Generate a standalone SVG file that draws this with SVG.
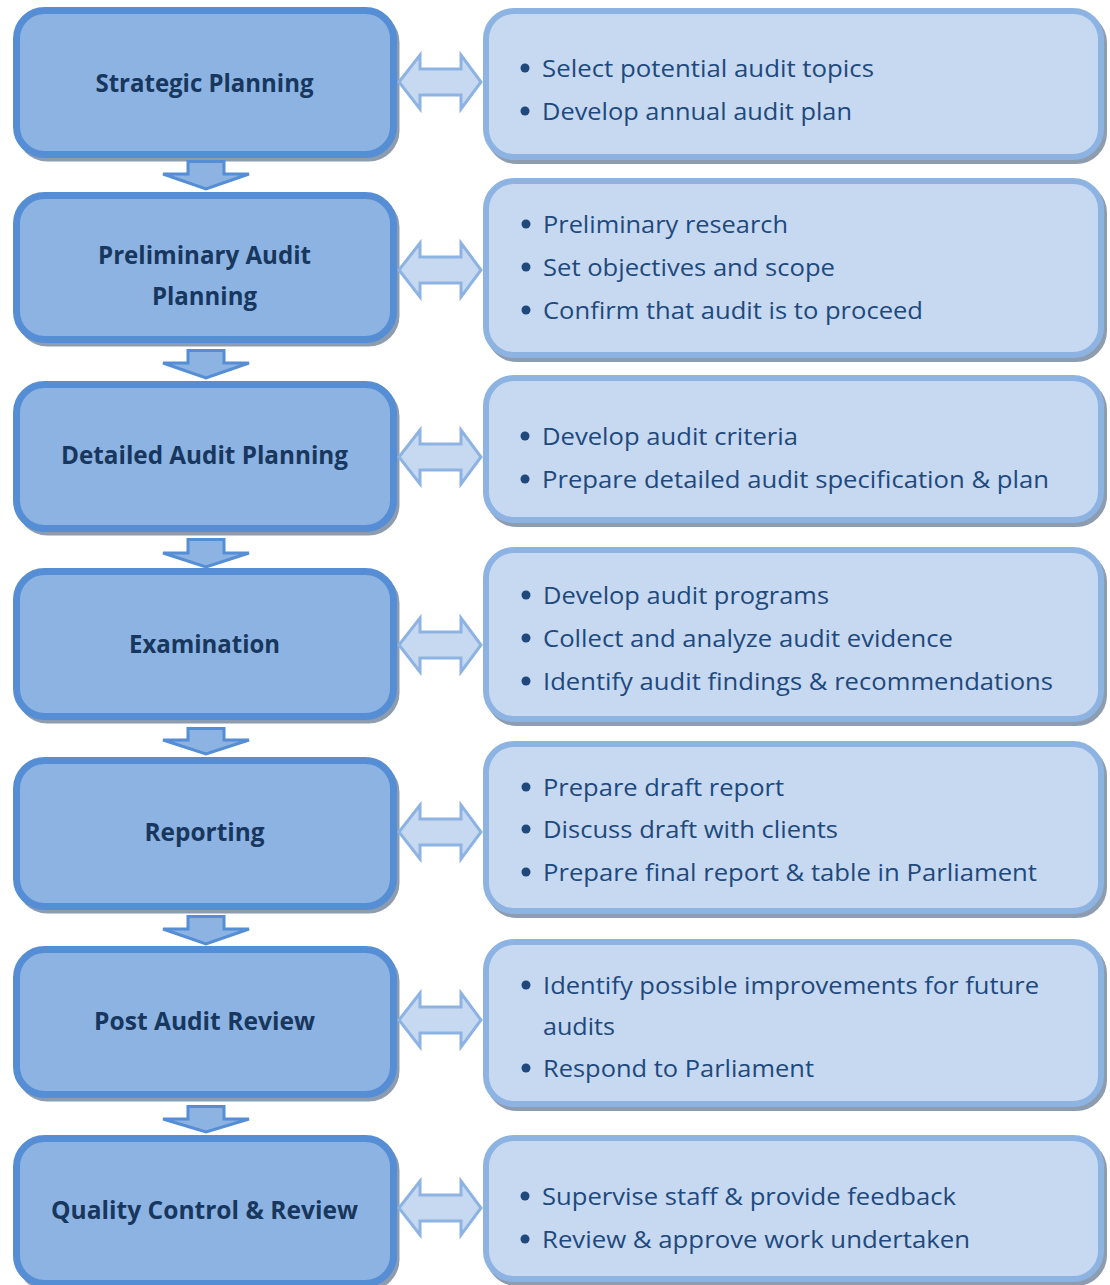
<svg xmlns="http://www.w3.org/2000/svg" width="1110" height="1285" viewBox="0 0 1110 1285">
<style>
.lbox{fill:#8DB3E2;stroke:#558ED5;stroke-width:7}
.rbox{fill:#C6D9F1;stroke:#8DB3E2;stroke-width:6}
.shadow{fill:#8E9CAF;stroke:#8E9CAF;stroke-width:6}
.down{fill:#8DB3E2;stroke:#558ED5;stroke-width:3;stroke-linejoin:miter}
.dbl{fill:#C6D9F1;stroke:#8DB3E2;stroke-width:3;stroke-linejoin:miter}
.ltxt{font-family:"Open Sans","Liberation Sans",sans-serif;font-weight:bold;font-size:25.5px;fill:#17375E;text-anchor:middle}
.rtxt{font-family:"Open Sans","Liberation Sans",sans-serif;font-size:24.5px;fill:#1F497D}
.dot{fill:#1F497D}
</style>
<rect width="1110" height="1285" fill="#FFFFFF"/>

<g id="node-strategic">
<rect class="shadow" x="19.5" y="14.5" width="377" height="144" rx="28"/>
<rect class="lbox" x="16.5" y="10.5" width="377" height="144" rx="28"/>
<text class="ltxt" x="204.5" y="92" textLength="218" lengthAdjust="spacingAndGlyphs">Strategic Planning</text>
</g>
<g id="node-strategic-detail">
<rect class="shadow" x="489" y="15" width="615" height="146" rx="28"/>
<rect class="rbox" x="486" y="11" width="615" height="146" rx="28"/>
<circle class="dot" cx="525" cy="68" r="4.5"/>
<text class="rtxt" x="542" y="77" textLength="332" lengthAdjust="spacingAndGlyphs">Select potential audit topics</text>
<circle class="dot" cx="525" cy="111" r="4.5"/>
<text class="rtxt" x="542" y="120" textLength="310" lengthAdjust="spacingAndGlyphs">Develop annual audit plan</text>
</g>

<g id="node-preliminary">
<rect class="shadow" x="19.5" y="199.5" width="377" height="144" rx="28"/>
<rect class="lbox" x="16.5" y="195.5" width="377" height="144" rx="28"/>
<text class="ltxt" x="204.5" y="264" textLength="213" lengthAdjust="spacingAndGlyphs">Preliminary Audit</text>
<text class="ltxt" x="204.5" y="305" textLength="105" lengthAdjust="spacingAndGlyphs">Planning</text>
</g>
<g id="node-preliminary-detail">
<rect class="shadow" x="489" y="185" width="615" height="174" rx="28"/>
<rect class="rbox" x="486" y="181" width="615" height="174" rx="28"/>
<circle class="dot" cx="526" cy="224" r="4.5"/>
<text class="rtxt" x="543" y="233" textLength="245" lengthAdjust="spacingAndGlyphs">Preliminary research</text>
<circle class="dot" cx="526" cy="267" r="4.5"/>
<text class="rtxt" x="543" y="276" textLength="292" lengthAdjust="spacingAndGlyphs">Set objectives and scope</text>
<circle class="dot" cx="526" cy="310" r="4.5"/>
<text class="rtxt" x="543" y="319" textLength="380" lengthAdjust="spacingAndGlyphs">Confirm that audit is to proceed</text>
</g>

<g id="node-detailed">
<rect class="shadow" x="19.5" y="388.5" width="377" height="144" rx="28"/>
<rect class="lbox" x="16.5" y="384.5" width="377" height="144" rx="28"/>
<text class="ltxt" x="204.5" y="464" textLength="287" lengthAdjust="spacingAndGlyphs">Detailed Audit Planning</text>
</g>
<g id="node-detailed-detail">
<rect class="shadow" x="489" y="382" width="615" height="142" rx="28"/>
<rect class="rbox" x="486" y="378" width="615" height="142" rx="28"/>
<circle class="dot" cx="525" cy="436" r="4.5"/>
<text class="rtxt" x="542" y="445" textLength="256" lengthAdjust="spacingAndGlyphs">Develop audit criteria</text>
<circle class="dot" cx="525" cy="479" r="4.5"/>
<text class="rtxt" x="542" y="488" textLength="507" lengthAdjust="spacingAndGlyphs">Prepare detailed audit specification &amp; plan</text>
</g>

<g id="node-examination">
<rect class="shadow" x="19.5" y="575.5" width="377" height="145" rx="28"/>
<rect class="lbox" x="16.5" y="571.5" width="377" height="145" rx="28"/>
<text class="ltxt" x="204.5" y="653" textLength="151" lengthAdjust="spacingAndGlyphs">Examination</text>
</g>
<g id="node-examination-detail">
<rect class="shadow" x="489" y="554" width="615" height="169" rx="28"/>
<rect class="rbox" x="486" y="550" width="615" height="169" rx="28"/>
<circle class="dot" cx="526" cy="595" r="4.5"/>
<text class="rtxt" x="543" y="604" textLength="286" lengthAdjust="spacingAndGlyphs">Develop audit programs</text>
<circle class="dot" cx="526" cy="638" r="4.5"/>
<text class="rtxt" x="543" y="647" textLength="410" lengthAdjust="spacingAndGlyphs">Collect and analyze audit evidence</text>
<circle class="dot" cx="526" cy="681" r="4.5"/>
<text class="rtxt" x="543" y="690" textLength="510" lengthAdjust="spacingAndGlyphs">Identify audit findings &amp; recommendations</text>
</g>

<g id="node-reporting">
<rect class="shadow" x="19.5" y="764.5" width="377" height="146" rx="28"/>
<rect class="lbox" x="16.5" y="760.5" width="377" height="146" rx="28"/>
<text class="ltxt" x="204.5" y="841" textLength="120" lengthAdjust="spacingAndGlyphs">Reporting</text>
</g>
<g id="node-reporting-detail">
<rect class="shadow" x="489" y="748" width="615" height="167" rx="28"/>
<rect class="rbox" x="486" y="744" width="615" height="167" rx="28"/>
<circle class="dot" cx="526" cy="787" r="4.5"/>
<text class="rtxt" x="543" y="796" textLength="241" lengthAdjust="spacingAndGlyphs">Prepare draft report</text>
<circle class="dot" cx="526" cy="829" r="4.5"/>
<text class="rtxt" x="543" y="838" textLength="295" lengthAdjust="spacingAndGlyphs">Discuss draft with clients</text>
<circle class="dot" cx="526" cy="872" r="4.5"/>
<text class="rtxt" x="543" y="881" textLength="494" lengthAdjust="spacingAndGlyphs">Prepare final report &amp; table in Parliament</text>
</g>

<g id="node-post-audit">
<rect class="shadow" x="19.5" y="953.5" width="377" height="145" rx="28"/>
<rect class="lbox" x="16.5" y="949.5" width="377" height="145" rx="28"/>
<text class="ltxt" x="204.5" y="1030" textLength="221" lengthAdjust="spacingAndGlyphs">Post Audit Review</text>
</g>
<g id="node-post-audit-detail">
<rect class="shadow" x="489" y="946" width="615" height="162" rx="28"/>
<rect class="rbox" x="486" y="942" width="615" height="162" rx="28"/>
<circle class="dot" cx="526" cy="985" r="4.5"/>
<text class="rtxt" x="543" y="994" textLength="496" lengthAdjust="spacingAndGlyphs">Identify possible improvements for future</text>
<text class="rtxt" x="543" y="1035" textLength="72" lengthAdjust="spacingAndGlyphs">audits</text>
<circle class="dot" cx="526" cy="1068" r="4.5"/>
<text class="rtxt" x="543" y="1077" textLength="271" lengthAdjust="spacingAndGlyphs">Respond to Parliament</text>
</g>

<g id="node-quality">
<rect class="shadow" x="19.5" y="1142.5" width="377" height="145" rx="28"/>
<rect class="lbox" x="16.5" y="1138.5" width="377" height="145" rx="28"/>
<text class="ltxt" x="204.5" y="1219" textLength="307" lengthAdjust="spacingAndGlyphs">Quality Control &amp; Review</text>
</g>
<g id="node-quality-detail">
<rect class="shadow" x="489" y="1142" width="615" height="141" rx="28"/>
<rect class="rbox" x="486" y="1138" width="615" height="141" rx="28"/>
<circle class="dot" cx="525" cy="1196" r="4.5"/>
<text class="rtxt" x="542" y="1205" textLength="414" lengthAdjust="spacingAndGlyphs">Supervise staff &amp; provide feedback</text>
<circle class="dot" cx="525" cy="1239" r="4.5"/>
<text class="rtxt" x="542" y="1248" textLength="428" lengthAdjust="spacingAndGlyphs">Review &amp; approve work undertaken</text>
</g>

<g id="connectors">
<polygon class="down" points="188,161.5 224,161.5 224,174 249,174 206,189 163,174 188,174"/>
<polygon class="down" points="188,350.5 224,350.5 224,363 249,363 206,378 163,363 188,363"/>
<polygon class="down" points="188,539.5 224,539.5 224,553 249,553 206,567 163,553 188,553"/>
<polygon class="down" points="188,728.5 224,728.5 224,740 249,740 206,754 163,740 188,740"/>
<polygon class="down" points="188,916.5 224,916.5 224,929 249,929 206,944 163,929 188,929"/>
<polygon class="down" points="188,1106.5 224,1106.5 224,1119 249,1119 206,1132 163,1119 188,1119"/>

<polygon class="dbl" points="399,82 420,55 420,69 461,69 461,55 481,82 461,109 461,95 420,95 420,109"/>
<polygon class="dbl" points="399,270 420,243 420,257 461,257 461,243 481,270 461,297 461,283 420,283 420,297"/>
<polygon class="dbl" points="399,457 420,430 420,444 461,444 461,430 481,457 461,484 461,470 420,470 420,484"/>
<polygon class="dbl" points="399,645 420,618 420,632 461,632 461,618 481,645 461,672 461,658 420,658 420,672"/>
<polygon class="dbl" points="399,832 420,805 420,819 461,819 461,805 481,832 461,859 461,845 420,845 420,859"/>
<polygon class="dbl" points="399,1020 420,993 420,1007 461,1007 461,993 481,1020 461,1047 461,1033 420,1033 420,1047"/>
<polygon class="dbl" points="399,1208 420,1181 420,1195 461,1195 461,1181 481,1208 461,1235 461,1221 420,1221 420,1235"/>
</g>
</svg>
